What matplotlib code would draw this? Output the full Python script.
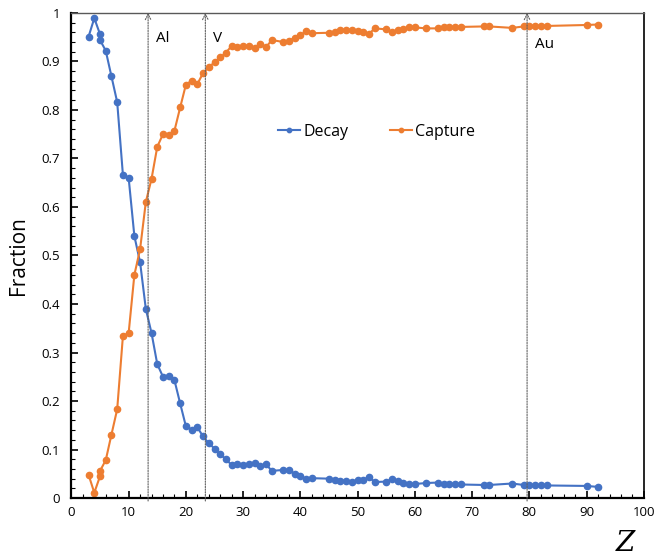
import numpy as np
import matplotlib
matplotlib.use("Agg")
from matplotlib import pyplot as plt
from matplotlib.ticker import MultipleLocator

plt.rcParams['font.family'] = ['Open Sans', 'DejaVu Sans']

# data
Z = [3, 4, 5, 5, 6, 7, 8, 9, 10, 11, 12, 13, 14, 15, 16, 17, 18, 19, 20,
     21, 22, 23, 24, 25, 26, 27, 28, 29, 30, 31, 32, 33, 34, 35, 37, 38, 39,
     40, 41, 42, 45, 46, 47, 48, 49, 50, 51, 52, 53, 55, 56, 57, 58, 59, 60,
     62, 64, 65, 66, 67, 68, 72, 73, 77, 79, 80, 81, 82, 83, 90, 92]
decay = [0.951, 0.989, 0.956, 0.944, 0.922, 0.869, 0.816, 0.666, 0.660,
         0.540, 0.486, 0.390, 0.340, 0.276, 0.250, 0.252, 0.243, 0.195,
         0.148, 0.141, 0.146, 0.127, 0.113, 0.102, 0.090, 0.080, 0.068,
         0.071, 0.069, 0.070, 0.072, 0.066, 0.070, 0.056, 0.058, 0.058,
         0.050, 0.046, 0.039, 0.041, 0.040, 0.038, 0.035, 0.036, 0.034,
         0.037, 0.038, 0.043, 0.033, 0.034, 0.039, 0.036, 0.032, 0.029,
         0.029, 0.031, 0.032, 0.029, 0.029, 0.028, 0.028, 0.027, 0.027,
         0.030, 0.027, 0.027, 0.026, 0.026, 0.026, 0.025, 0.023]
capture = [0.048, 0.011, 0.045, 0.056, 0.078, 0.131, 0.183, 0.334, 0.340,
           0.460, 0.513, 0.610, 0.658, 0.724, 0.750, 0.748, 0.757, 0.805,
           0.852, 0.860, 0.853, 0.876, 0.888, 0.898, 0.908, 0.918, 0.932,
           0.929, 0.931, 0.931, 0.927, 0.935, 0.929, 0.944, 0.940, 0.942,
           0.949, 0.954, 0.962, 0.958, 0.959, 0.961, 0.964, 0.964, 0.965,
           0.962, 0.961, 0.957, 0.968, 0.966, 0.961, 0.964, 0.967, 0.970,
           0.970, 0.968, 0.968, 0.970, 0.970, 0.971, 0.971, 0.972, 0.972,
           0.969, 0.972, 0.973, 0.973, 0.973, 0.973, 0.975, 0.976]

# marker lines as drawn (slightly right of the integer Z)
markers_Z = [13.4, 23.4, 79.6]
markers_name = ["Al", "V", "Au"]
markers_y = [0.948, 0.948, 0.935]

fig = plt.figure(figsize=(6.55, 5.59), dpi=100)
ax = fig.add_axes([0.109, 0.109, 0.874, 0.868])

ax.plot(Z, decay, "-o", color="#4472C4", lw=1.5, ms=4.5, label="Decay")
ax.plot(Z, capture, "-o", color="#ED7D31", lw=1.5, ms=4.5, label="Capture")

for z, name, ty in zip(markers_Z, markers_name, markers_y):
    ax.annotate("", xy=(z, 1.0), xytext=(z, -0.006),
                arrowprops=dict(arrowstyle="->", linestyle=(0, (1.2, 1.2)),
                                color="#606060", lw=0.8, shrinkA=0, shrinkB=0),
                annotation_clip=False)
    ax.text(z + 1.3, ty, name, fontsize=11, ha="left", va="center")

ax.set_xlim(0, 100)
ax.set_ylim(0, 1)
ax.xaxis.set_major_locator(MultipleLocator(10))
ax.xaxis.set_minor_locator(MultipleLocator(2))
ax.yaxis.set_minor_locator(MultipleLocator(0.02))
ax.set_yticks(np.arange(0, 1.01, 0.1))
ax.set_yticklabels(["0", "0.1", "0.2", "0.3", "0.4", "0.5", "0.6", "0.7",
                    "0.8", "0.9", "1"])
ax.tick_params(which="both", direction="in", labelsize=9.5, color="black")
ax.tick_params(which="major", length=5, width=1.2, pad=6)
ax.tick_params(which="minor", length=3, width=0.8)
ax.tick_params(axis="y", which="major", pad=8)

for s in ["left", "bottom"]:
    ax.spines[s].set_linewidth(1.6)
ax.spines["right"].set_linewidth(1.2)
ax.spines["top"].set_linewidth(1.0)
ax.spines["top"].set_color("#595959")

ax.set_ylabel("Fraction", fontsize=15, labelpad=9)
fig.text(0.955, 0.003, "Z", fontsize=20, style="italic",
         family="DejaVu Serif", ha="center", va="bottom")

ax.legend(loc="center", bbox_to_anchor=(0.533, 0.755), ncol=2, frameon=False,
          fontsize=11.5, handlelength=1.4, handletextpad=0.2,
          columnspacing=2.6, markerscale=0.7)

fig.savefig("out.png", dpi=100)
